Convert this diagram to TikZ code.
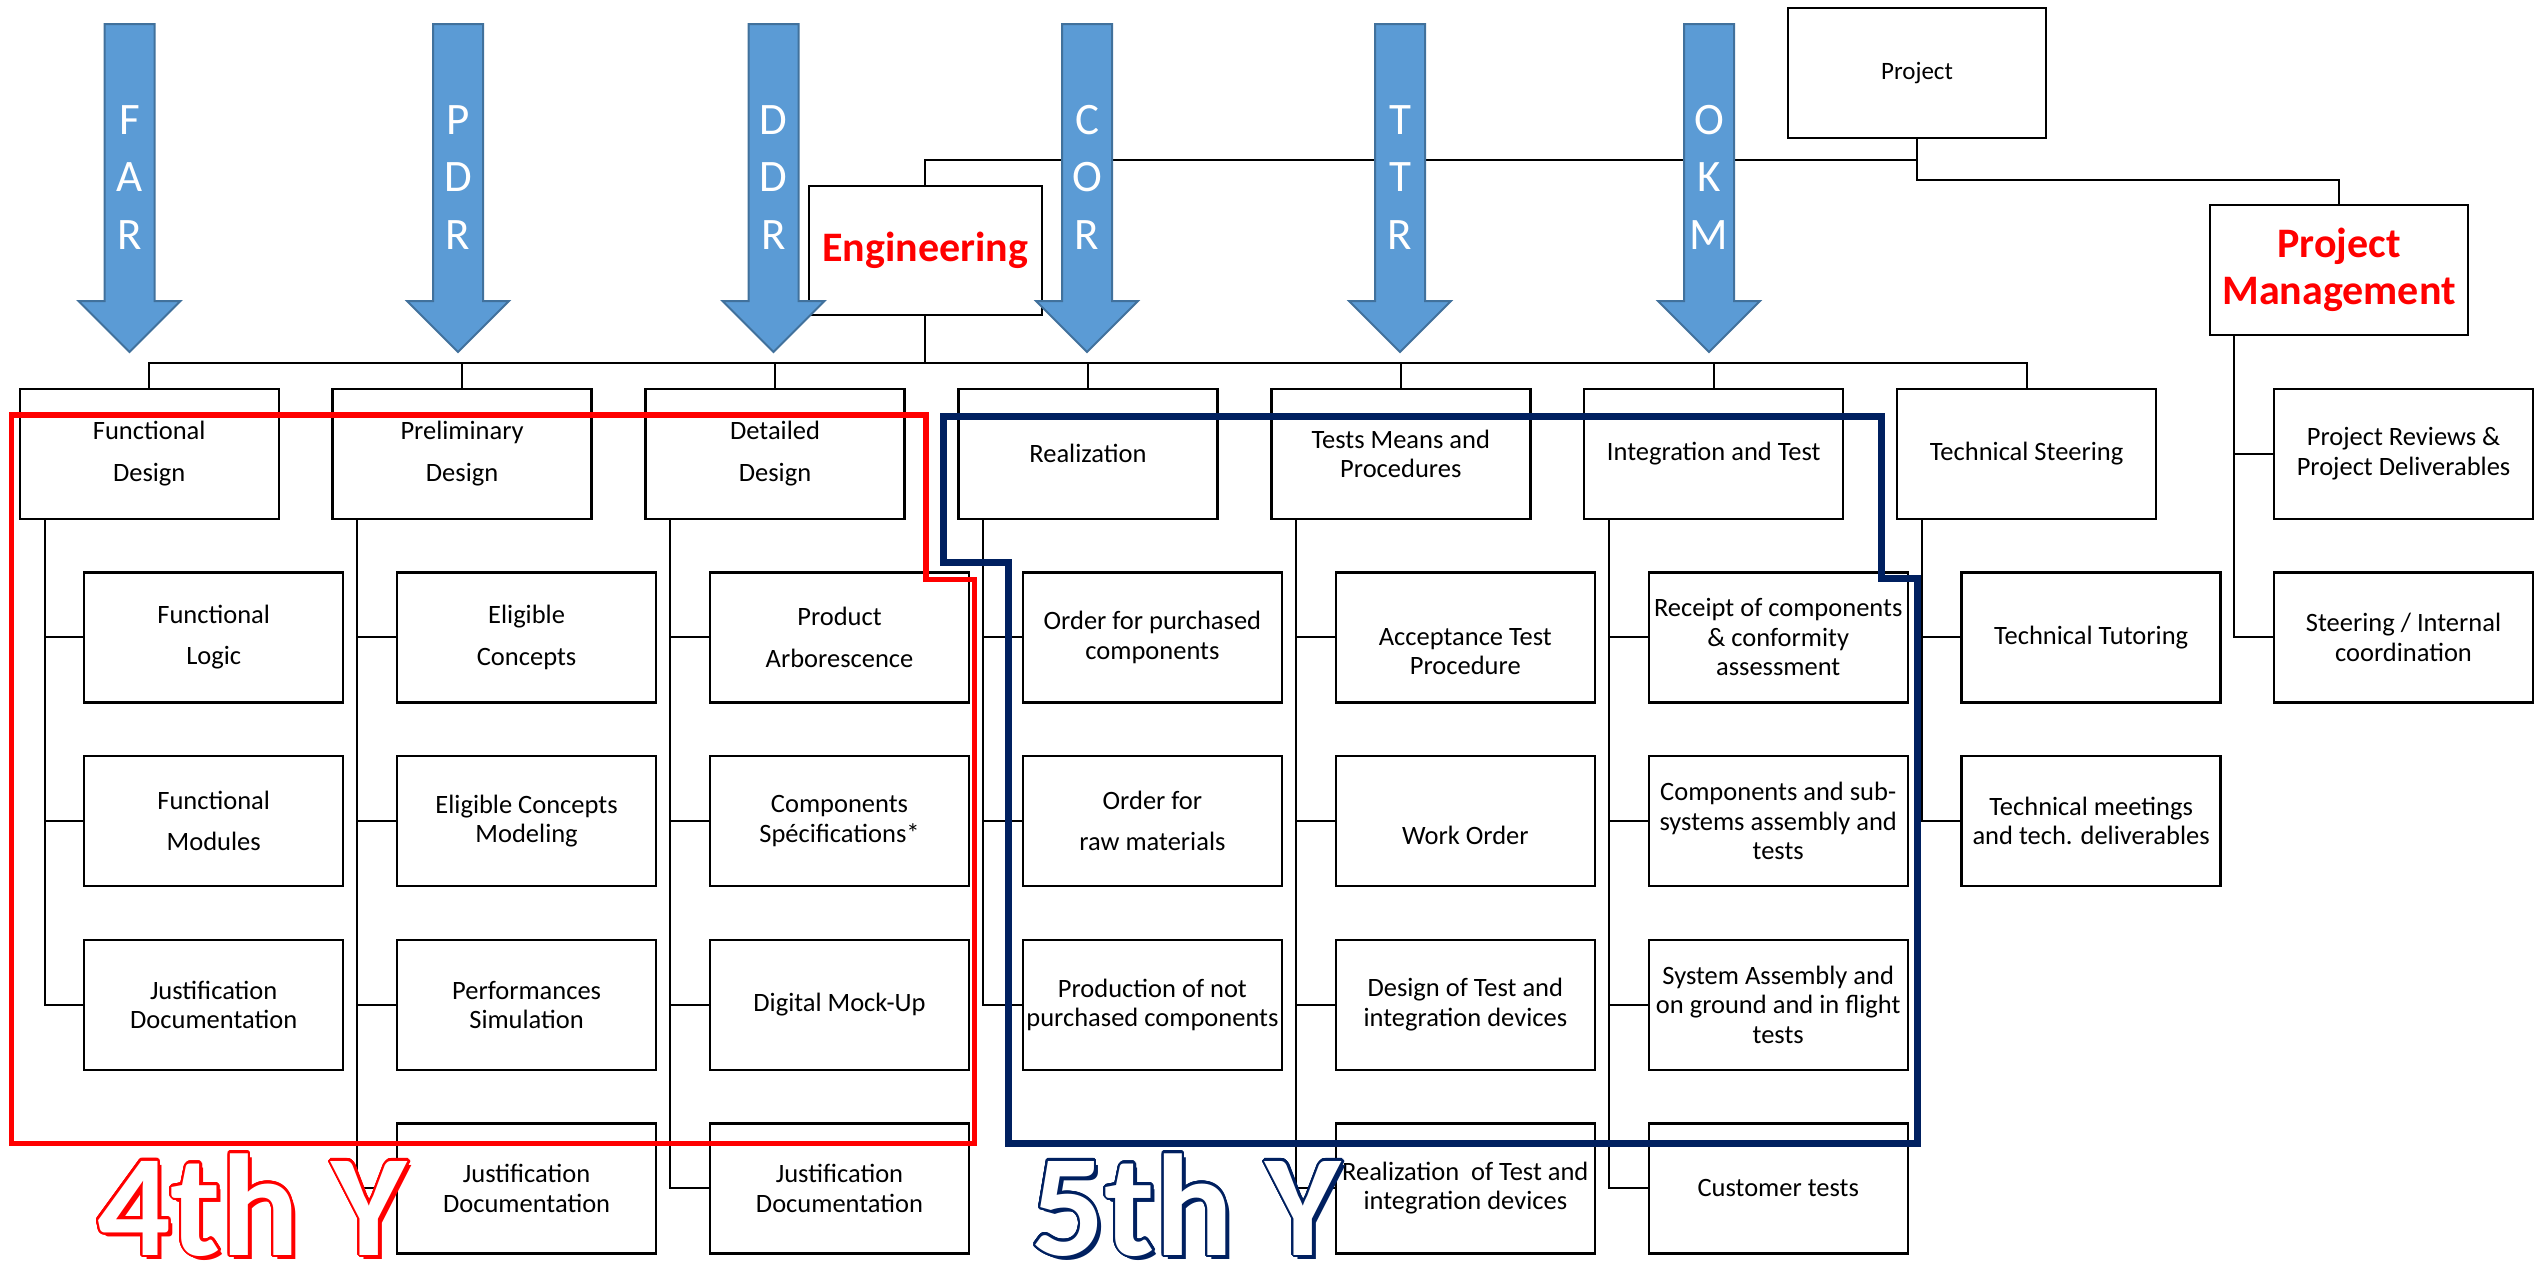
\documentclass[tikz,border=0pt]{standalone}
\usepackage{fontspec}
\setmainfont{Carlito}
\usepackage{contour}
\contourlength{1.1pt}
\contournumber{32}
\definecolor{arrowblue}{HTML}{5B9BD5}
\definecolor{arrowedge}{HTML}{41719C}
\definecolor{navyb}{HTML}{002060}
\definecolor{frred}{HTML}{FF0000}
\newcommand\ftight{\fontsize{13.25pt}{14.7pt}\selectfont}
\newcommand\floose{\fontsize{13.25pt}{20.7pt}\selectfont}
\newcommand\fbold{\fontsize{21pt}{23.3pt}\selectfont\bfseries}
\newcommand\fletter{\fontsize{22.5pt}{24pt}\selectfont}
\newcommand\fproj{\fontsize{12.5pt}{14pt}\selectfont}
\newcommand\fyear{\fontsize{72.5pt}{80pt}\selectfont\bfseries}
\tikzset{
  box/.style={draw=black, line width=1.2pt, fill=white, minimum width=129.5pt,
    minimum height=65pt, inner sep=0pt, align=center, font=\ftight},
  loose/.style={font=\floose},
  conn/.style={draw=black, line width=1pt},
  revarrow/.style={fill=arrowblue, draw=arrowedge, line width=1pt, line join=miter},
  arrowletter/.style={text=white, font=\fletter, inner sep=0pt},
  plain/.style={inner sep=0pt, align=center, font=\ftight},
  redframe/.style={draw=frred, line width=2.75pt, line join=miter},
  blueframe/.style={draw=navyb, line width=3.5pt, line join=miter},
}
\begin{document}
\begin{tikzpicture}[x=0.5pt,y=-0.5pt]
\useasboundingbox (0,0) rectangle (2535,1264);

% top level
\node[box, minimum width=129pt] (proj) at (1917,72.8) {\fproj Project};
\node[box, minimum width=116.5pt, minimum height=64.5pt, font=\fbold, text=frred] (eng) at (925.3,250.5) {Engineering};
\node[box, minimum width=129pt, font=\fbold, text=frred] (pm) at (2339,270) {Project\\Management};

% level 2
\node[box,loose] (fd) at (149.2,453.7) {Functional\\Design};
\node[box,loose] (pd) at (462.1,453.7) {Preliminary\\Design};
\node[box,loose] (dd) at (775,453.7) {Detailed\\Design};
\node[box] (re) at (1087.9,453.7) {Realization};
\node[box] (tm) at (1400.8,453.7) {Tests Means and\\Procedures};
\node[box] (it) at (1713.7,453.7) {Integration and Test};
\node[box] (ts) at (2026.6,453.7) {Technical Steering};

% children
\node[box,loose] (fd1) at (213.7,637.3) {Functional\\Logic};
\node[box,loose] (fd2) at (213.7,821) {Functional\\Modules};
\node[box] (fd3) at (213.7,1004.7) {Justification\\Documentation};

\node[box,loose] (pd1) at (526.6,637.3) {Eligible\\Concepts};
\node[box] (pd2) at (526.6,821) {Eligible Concepts\\Modeling};
\node[box] (pd3) at (526.6,1004.7) {Performances\\Simulation};
\node[box] (pd4) at (526.6,1188.3) {Justification\\Documentation};

\node[box,loose] (dd1) at (839.5,637.3) {Product\\Arborescence};
\node[box] (dd2) at (839.5,821) {Components\\Spécifications*};
\node[box] (dd3) at (839.5,1004.7) {Digital Mock-Up};
\node[box] (dd4) at (839.5,1188.3) {Justification\\Documentation};

\node[box] (re1) at (1152.4,637.3) {Order for purchased\\components};
\node[box,loose] (re2) at (1152.4,821) {Order for\\raw materials};
\node[box] (re3) at (1152.4,1004.7) {Production of not\\purchased components};

\node[box] (tm1) at (1465.3,637.3) {};
\node[plain] (tm1t) at (1465.3,651.5) {Acceptance Test\\Procedure};
\node[box] (tm2) at (1465.3,821) {};
\node[plain] (tm2t) at (1465.3,835) {Work Order};
\node[box] (tm3) at (1465.3,1004.7) {Design of Test and\\integration devices};
\node[box] (tm4) at (1465.3,1188.3) {Realization~ of Test and\\integration devices};

\node[box] (it1) at (1778.2,637.3) {Receipt of components\\\& conformity\\assessment};
\node[box] (it2) at (1778.2,821) {Components and sub-\\systems assembly and\\tests};
\node[box] (it3) at (1778.2,1004.7) {System Assembly and\\on ground and in flight\\tests};
\node[box] (it4) at (1778.2,1188.3) {Customer tests};

\node[box] (ts1) at (2091.1,637.3) {Technical Tutoring};
\node[box] (ts2) at (2091.1,821) {Technical meetings\\and tech. deliverables};

\node[box] (pr) at (2403.5,453.7) {Project Reviews \&\\Project Deliverables};
\node[box] (si) at (2403.5,637.3) {Steering / Internal\\coordination};

% connectors
\draw[conn] (proj.south) -- ++(0,21) -| (eng.north);
\draw[conn] (proj.south) -- ++(0,41.3) -| (pm.north);
\foreach \n in {fd,pd,dd,re,tm,it,ts}
  \draw[conn] (eng.south) -- ++(0,47) -| (\n.north);
\foreach \p/\c in {fd/fd1,fd/fd2,fd/fd3,pd/pd1,pd/pd2,pd/pd3,pd/pd4,
                   dd/dd1,dd/dd2,dd/dd3,dd/dd4,re/re1,re/re2,re/re3,
                   tm/tm1,tm/tm2,tm/tm3,tm/tm4,it/it1,it/it2,it/it3,it/it4,
                   ts/ts1,ts/ts2}
  \draw[conn] ([xshift=13pt]\p.south west) |- (\c.west);
\draw[conn] ([xshift=12.5pt]pm.south west) |- (pr.west);
\draw[conn] ([xshift=12.5pt]pm.south west) |- (si.west);

% review arrows
\foreach \cx/\a/\b/\c [count=\i] in {129.5/F/A/R, 458/P/D/R, 773.5/D/D/R, 1087/C/O/R, 1400/T/T/R, 1709/O/K/M} {
  \draw[revarrow] (\cx-25,24) -- (\cx+25,24) -- (\cx+25,301) -- (\cx+51,301)
    -- (\cx,352) -- (\cx-51,301) -- (\cx-25,301) -- cycle;
  \node[arrowletter] (ar\i a) at (\cx,120) {\a};
  \node[arrowletter] (ar\i b) at (\cx,176.7) {\b};
  \node[arrowletter] (ar\i c) at (\cx,235) {\c};
}

% year frames
\draw[redframe] (11.5,414.8) -- (926,414.8) -- (926,579.3) -- (974.5,579.3)
  -- (974.5,1143.3) -- (11.5,1143.3) -- cycle;
\draw[blueframe] (943.9,416.7) -- (1881.8,416.7) -- (1881.8,578.7) -- (1917.3,578.7)
  -- (1917.3,1143.3) -- (1008.7,1143.3) -- (1008.7,562) -- (943.9,562) -- cycle;

% year labels
\node[anchor=base west, inner sep=0pt, font=\fyear, text=frred] (y4s) at (101,1259) {4th Y};
\node[anchor=base west, inner sep=0pt, font=\fyear, text=white] (y4) at (97,1255) {\contour{frred}{4th Y}};
\node[anchor=base west, inner sep=0pt, font=\fyear, text=navyb] (y5s) at (1035,1259) {5th Y};
\node[anchor=base west, inner sep=0pt, font=\fyear, text=white] (y5) at (1031,1255) {\contour{navyb}{5th Y}};
\end{tikzpicture}
\end{document}
